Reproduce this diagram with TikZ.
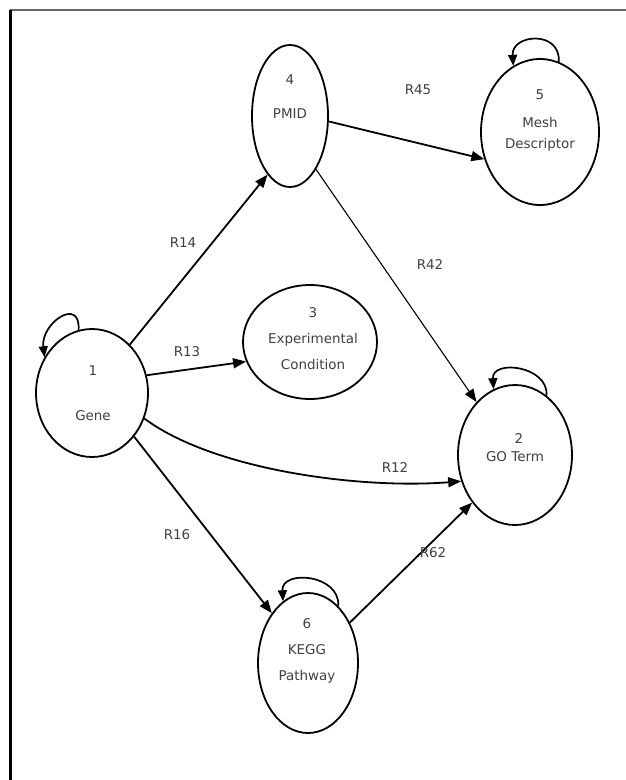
\documentclass[tikz,border=0pt]{standalone}
\usepackage{fontspec}
\setmainfont{DejaVu Sans}
\usetikzlibrary{shapes.geometric,arrows.meta,calc}
\begin{document}
\begin{tikzpicture}[x=1bp,y=-1bp,
  ell/.style={draw=black,ellipse,line width=1.8bp,inner sep=0pt,fill=white},
  txt/.style={font=\fontsize{13.5}{15}\selectfont,text=black!75,inner sep=0pt},
  tip/.style={-{Triangle[length=13bp,width=10bp]}},
  rel/.style={draw=black,line width=1.8bp,tip},
  thin rel/.style={draw=black,line width=1.1bp,tip},
  loopst/.style={draw=black,line width=1.7bp,-{Triangle[length=11bp,width=9bp]}},
  ]
\useasboundingbox (0,0) rectangle (626,780);
\fill[white] (0,0) rectangle (626,780);
% frame
\draw[black!60,line width=1.2bp] (10,10) -- (626,10);
\draw[black,line width=3bp] (10,10) -- (10,780);

% nodes
\node[ell,minimum width=112bp,minimum height=128bp] (n1) at (92,393) {};
\node[ell,minimum width=114bp,minimum height=140bp] (n2) at (515,455) {};
\node[ell,minimum width=134bp,minimum height=114bp] (n3) at (310,342) {};
\node[ell,minimum width=76bp,minimum height=142bp] (n4) at (290,116) {};
\node[ell,minimum width=118bp,minimum height=146bp] (n5) at (540,132) {};
\node[ell,minimum width=100bp,minimum height=140bp] (n6) at (308,663) {};

% node texts
\node[txt] (t1a) at (93,371) {1};
\node[txt] (t1b) at (93,416) {Gene};
\node[txt] (t2b) at (515,457) {GO Term};
\node[txt] (t2a) at (519,439) {2};
\node[txt] (t3a) at (313,313) {3};
\node[txt] (t3b) at (313,340) {Experimental};
\node[txt] (t3c) at (313,364) {Condition};
\node[txt] (t4a) at (290,80) {4};
\node[txt] (t4b) at (290,114) {PMID};
\node[txt] (t5a) at (540,95) {5};
\node[txt] (t5b) at (540,122) {Mesh};
\node[txt] (t5c) at (540,145) {Descriptor};
\node[txt] (t6a) at (307,624) {6};
\node[txt] (t6b) at (307,650) {KEGG};
\node[txt] (t6c) at (307,677) {Pathway};

% self loops
\draw[loopst] (n1.102) .. controls +(2,-34) and +(-4,-34) .. (n1.143);
\draw[loopst] (n5.75) .. controls +(2,-32) and +(-2,-32) .. (n5.112);
\draw[loopst] (n2.62) .. controls +(2,-30) and +(-2,-30) .. (n2.108);
\draw[loopst] (n6.62) .. controls +(2,-32) and +(-2,-32) .. (n6.112);

% relations
\draw[rel] (n1.52) -- (n4.249);
\draw[rel] (n1.18) -- (n3.197);
\draw[rel] (n4.352) -- (n5.206);
\draw[thin rel] (n4.296) -- (n2.126);
\draw[rel] (n1.334) .. controls +(70,52) and +(-100,8) .. (n2.206);
\draw[rel] (n1.314) -- (n6.126);
\draw[rel] (n6.44) -- (n2.228);

% relation labels
\node[txt] (l14) at (183,243) {R14};
\node[txt] (l13) at (187,352) {R13};
\node[txt] (l45) at (418,90) {R45};
\node[txt] (l42) at (430,265) {R42};
\node[txt] (l12) at (395,468) {R12};
\node[txt] (l16) at (177,535) {R16};
\node[txt] (l62) at (433,553) {R62};
\end{tikzpicture}
\end{document}
